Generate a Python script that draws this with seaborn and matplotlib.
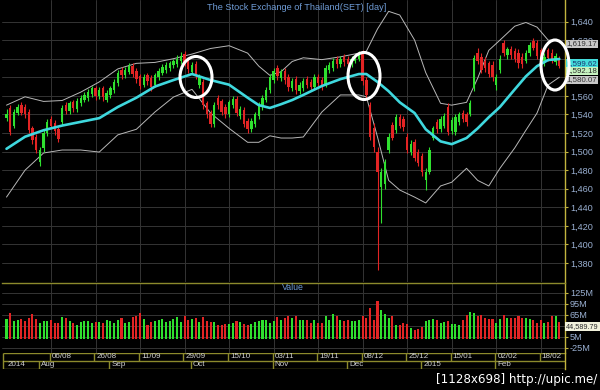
import numpy as np
import pandas as pd
import matplotlib
matplotlib.use("Agg")
import matplotlib.pyplot as plt
from matplotlib.patches import Ellipse
import seaborn as sns

# ---------------- data ----------------
opens = [1536, 1547, 1528, 1542, 1550, 1548, 1543, 1525, 1516, 1489,
         1504, 1520, 1535, 1531, 1524, 1532, 1550, 1544, 1553, 1546,
         1552, 1556, 1558, 1562, 1568, 1560, 1568, 1556, 1561, 1566,
         1574, 1588, 1582, 1586, 1592, 1587, 1581, 1572, 1582, 1579,
         1572, 1580, 1585, 1588, 1590, 1593, 1594, 1597, 1605, 1598,
         1586, 1594, 1572, 1575, 1552, 1542, 1530, 1558, 1554, 1548,
         1540, 1550, 1557, 1538, 1545, 1533, 1524, 1530, 1538, 1548,
         1556, 1566, 1577, 1590, 1579, 1587, 1580, 1568, 1578, 1565,
         1568, 1578, 1575, 1570, 1580, 1577, 1572, 1588, 1590, 1600,
         1594, 1602, 1600, 1594, 1598, 1600, 1606, 1577, 1550, 1525,
         1500, 1462, 1465, 1502, 1529, 1523, 1537, 1535, 1516, 1500,
         1510, 1500, 1495, 1469, 1478, 1515, 1532, 1524, 1528, 1548,
         1522, 1521, 1532, 1542, 1540, 1540, 1568, 1606, 1602, 1598,
         1595, 1593, 1572, 1588, 1617, 1604, 1610, 1608, 1606, 1602,
         1598, 1606, 1619, 1617, 1609, 1595, 1609, 1606, 1596, 1600]
closes = [1541, 1521, 1543, 1548, 1542, 1540, 1523, 1512, 1502, 1502,
          1520, 1532, 1528, 1522, 1514, 1547, 1544, 1552, 1547, 1555,
          1558, 1561, 1564, 1568, 1560, 1566, 1559, 1563, 1568, 1575,
          1585, 1582, 1588, 1592, 1584, 1578, 1571, 1580, 1576, 1569,
          1582, 1587, 1591, 1593, 1595, 1597, 1600, 1603, 1596, 1589,
          1593, 1582, 1580, 1550, 1540, 1530, 1550, 1550, 1543, 1540,
          1553, 1557, 1542, 1546, 1530, 1524, 1533, 1540, 1550, 1558,
          1566, 1580, 1587, 1581, 1586, 1577, 1569, 1576, 1566, 1572,
          1576, 1572, 1569, 1580, 1574, 1570, 1590, 1593, 1598, 1594,
          1600, 1596, 1594, 1600, 1602, 1605, 1576, 1561, 1516, 1505,
          1478, 1478, 1489, 1516, 1515, 1537, 1528, 1526, 1502, 1508,
          1493, 1488, 1478, 1478, 1502, 1525, 1524, 1535, 1538, 1521,
          1534, 1537, 1540, 1535, 1532, 1552, 1601, 1597, 1588, 1590,
          1584, 1580, 1580, 1600, 1606, 1610, 1604, 1600, 1595, 1594,
          1606, 1615, 1612, 1603, 1595, 1602, 1601, 1598, 1603, 1592.18]
highs = [1546, 1550, 1546, 1551, 1553, 1551, 1546, 1528, 1519, 1505,
         1523, 1535, 1538, 1534, 1527, 1550, 1553, 1555, 1556, 1558,
         1561, 1564, 1567, 1571, 1571, 1569, 1571, 1566, 1571, 1578,
         1588, 1591, 1591, 1595, 1595, 1590, 1584, 1583, 1585, 1582,
         1585, 1590, 1594, 1596, 1598, 1600, 1604, 1607, 1608, 1601,
         1596, 1597, 1583, 1578, 1555, 1545, 1553, 1561, 1557, 1551,
         1556, 1560, 1560, 1549, 1548, 1536, 1536, 1543, 1553, 1561,
         1569, 1583, 1590, 1593, 1589, 1590, 1583, 1579, 1581, 1575,
         1579, 1581, 1578, 1583, 1583, 1580, 1593, 1596, 1601, 1603,
         1603, 1605, 1603, 1603, 1605, 1608, 1609, 1580, 1553, 1531,
         1505, 1482, 1492, 1520, 1532, 1540, 1540, 1538, 1520, 1512,
         1514, 1503, 1498, 1482, 1505, 1528, 1535, 1538, 1542, 1552,
         1537, 1540, 1543, 1545, 1543, 1556, 1604, 1612, 1606, 1602,
         1598, 1597, 1584, 1604, 1620, 1613, 1614, 1612, 1610, 1606,
         1609, 1618, 1622, 1620, 1612, 1606, 1612, 1610, 1606, 1603]
lows = [1533, 1518, 1525, 1539, 1539, 1536, 1520, 1508, 1498, 1485,
        1500, 1517, 1525, 1518, 1510, 1529, 1540, 1541, 1543, 1543,
        1549, 1553, 1555, 1559, 1556, 1557, 1555, 1553, 1558, 1563,
        1571, 1578, 1579, 1583, 1580, 1574, 1567, 1569, 1572, 1565,
        1569, 1577, 1582, 1585, 1587, 1590, 1591, 1594, 1592, 1585,
        1583, 1578, 1568, 1546, 1536, 1526, 1527, 1546, 1539, 1536,
        1537, 1547, 1538, 1535, 1526, 1520, 1521, 1527, 1535, 1545,
        1553, 1563, 1574, 1577, 1576, 1573, 1565, 1565, 1562, 1562,
        1565, 1568, 1565, 1567, 1570, 1566, 1569, 1585, 1587, 1590,
        1591, 1592, 1590, 1591, 1595, 1597, 1572, 1557, 1512, 1500,
        1373, 1423, 1460, 1498, 1512, 1520, 1525, 1522, 1498, 1496,
        1490, 1484, 1474, 1459, 1476, 1512, 1520, 1521, 1525, 1518,
        1519, 1518, 1529, 1532, 1528, 1538, 1565, 1594, 1585, 1586,
        1580, 1576, 1566, 1585, 1603, 1600, 1600, 1596, 1590, 1590,
        1595, 1603, 1609, 1600, 1590, 1592, 1598, 1595, 1593, 1590]
volume_m = [52, 70, 49, 50, 52, 49, 55, 67, 52, 43, 48, 49, 50, 43, 41, 58, 55, 49, 41, 37,
            46, 49, 48, 41, 46, 46, 41, 50, 48, 41, 50, 55, 43, 46, 58, 60, 69, 52, 37, 46,
            49, 50, 54, 46, 49, 52, 58, 46, 62, 50, 53, 57, 46, 58, 49, 46, 46, 37, 37, 39,
            39, 41, 48, 44, 39, 37, 40, 46, 48, 50, 50, 41, 49, 58, 50, 57, 62, 57, 60, 50,
            50, 50, 43, 50, 43, 41, 62, 50, 66, 60, 50, 49, 50, 48, 48, 50, 62, 57, 84, 50,
            103, 78, 66, 55, 60, 37, 37, 41, 39, 28, 23, 25, 30, 49, 50, 53, 50, 43, 46, 49,
            39, 40, 37, 50, 64, 71, 69, 60, 64, 55, 53, 52, 43, 52, 64, 55, 55, 55, 62, 57,
            55, 53, 50, 43, 50, 41, 46, 60, 60, 46]

band_bars = [0, 5, 10, 15, 20, 25, 30, 35, 40, 45, 50, 55, 60, 65, 68, 71, 74, 77, 80, 85,
             90, 95, 97, 100, 103, 106, 110, 113, 117, 120, 124, 127, 130, 133, 137, 140,
             143, 146, 149]
band_upper = [1550, 1559, 1554, 1555, 1564, 1575, 1589, 1595, 1596, 1600, 1605, 1611, 1614,
              1606, 1592, 1582, 1586, 1597, 1601, 1599, 1602, 1606, 1608, 1632, 1651, 1647,
              1620, 1585, 1552, 1550, 1553, 1579, 1609, 1620, 1635, 1639, 1634, 1620, 1619.17]
band_mid = [1503, 1516, 1523, 1528, 1532, 1536, 1548, 1558, 1570, 1577, 1583.5, 1577, 1572,
            1558, 1550, 1547, 1551, 1555.5, 1561, 1570.6, 1578, 1583.5, 1583.5, 1575, 1565,
            1553, 1541.5, 1524, 1511, 1508, 1514.6, 1525, 1537, 1548, 1567, 1581, 1592,
            1598.6, 1599.62]
band_lower = [1451, 1480, 1498.5, 1501.7, 1501.7, 1499.5, 1518, 1524, 1542.6, 1558.7, 1567,
              1541.5, 1525, 1510, 1510, 1517, 1514.6, 1514.6, 1515.7, 1542.6, 1561, 1561,
              1559, 1515.7, 1469, 1458.6, 1451, 1444.7, 1463, 1467, 1482, 1469, 1463, 1482,
              1504, 1523, 1541.5, 1571.7, 1580.07]

date_tick_bars = [12, 24, 36, 48, 60, 72, 84, 96, 108, 120, 132, 144]
date_tick_labels = ["06/08", "26/08", "11/09", "29/09", "15/10", "03/11",
                    "19/11", "08/12", "25/12", "15/01", "02/02", "18/02"]
month_bars = [0, 9, 28, 50, 72, 92, 112, 132]
month_labels = ["2014", "Aug", "Sep", "Oct", "Nov", "Dec", "2015", "Feb"]
price_ticks = [1380, 1400, 1420, 1440, 1460, 1480, 1500, 1520, 1540, 1560, 1580, 1600, 1620, 1640]
volume_ticks = [-25, 5, 35, 65, 95, 125]
last_upper, last_mid, last_close, last_lower = 1619.17, 1599.62, 1592.18, 1580.07
last_value = 44589.79

title = "The Stock Exchange of Thailand(SET) [day]"

# ---------------- style ----------------
UP = "#2fe02f"
DOWN = "#e32424"
GRID = "#343434"
TICK = "#9ab0d2"
YELLOW = "#c2b43e"
OLIVE = "#8c8a2c"

sns.set_style("dark", {"axes.facecolor": "black", "figure.facecolor": "black"})
plt.rcParams["font.family"] = ["Liberation Sans", "DejaVu Sans"]

W, H = 600, 390
fig = plt.figure(figsize=(6, 3.9), dpi=100, facecolor="black")


def fx(px):
    return px / W


def fy(py):
    return 1 - py / H


L, R = 2, 565
ax = fig.add_axes([fx(L), fy(282), (R - L) / W, 282 / H])
axv = fig.add_axes([fx(L), fy(353), (R - L) / W, (353 - 283) / H])
axd = fig.add_axes([fx(L), fy(369), (R - L) / W, (369 - 353) / H])

x_lo = (L - 6.5) / 3.71
x_hi = (R - 6.5) / 3.71

n = len(closes)
df = pd.DataFrame({"bar": np.arange(n), "open": opens, "high": highs, "low": lows,
                   "close": closes, "vol": volume_m})
df["dir"] = np.where(df["close"] >= df["open"], "up", "down")
cols = df["dir"].map({"up": UP, "down": DOWN}).tolist()

# ---- main price panel ----
ax.set_facecolor("black")
bands = pd.DataFrame({"bar": band_bars, "upper": band_upper, "mid": band_mid, "lower": band_lower})
sns.lineplot(data=bands, x="bar", y="upper", ax=ax, color="#b8b8b8", lw=0.7, zorder=2)
sns.lineplot(data=bands, x="bar", y="lower", ax=ax, color="#b8b8b8", lw=0.7, zorder=2)

ax.vlines(df["bar"], df["low"], df["high"], colors=cols, lw=0.8, zorder=3)
body = (df["close"] - df["open"]).abs().clip(lower=0.8)
ax.bar(df["bar"], body, bottom=df[["open", "close"]].min(axis=1), width=0.64,
       color=cols, linewidth=0, edgecolor="none", zorder=4)

sns.lineplot(data=bands, x="bar", y="mid", ax=ax, color="#3fd8de", lw=1.9, zorder=5)

ax.set_xlim(x_lo, x_hi)
ax.set_ylim(1359.6, 1663.2)
ax.set_yticks(price_ticks)
# labels hidden behind the last-value boxes in the reference are left blank
hidden = {1580, 1600}
ax.set_yticklabels(["" if v in hidden else f"{v:,}" for v in price_ticks])
ax.set_xticks(date_tick_bars)
ax.set_xticklabels([])
ax.yaxis.tick_right()
ax.tick_params(axis="y", labelsize=6.6, length=2, pad=1.5, labelcolor=TICK, color=YELLOW)
ax.tick_params(axis="x", length=0)
ax.grid(True, color=GRID, lw=0.7)
ax.set_xlabel("")
ax.set_ylabel("")
for s in ["top", "left", "bottom"]:
    ax.spines[s].set_visible(False)
ax.spines["right"].set_color(YELLOW)
ax.spines["right"].set_linewidth(1.0)

label_specs = [
    (last_upper, -2.2, "#c8c8c8", "#333333"),
    (last_mid, -2.9, "#44dcdc", "#1b3670"),
    (last_close, -3.6, "#c6f2c0", "#2a2a2a"),
    (last_lower, -2.0, "#c8c8c8", "#333333"),
]
for val, dy, fc, tc in label_specs:
    ax.annotate(f"{val:,.2f}", xy=(1, val), xycoords=("axes fraction", "data"),
                xytext=(1.2, dy), textcoords="offset points", ha="left", va="center",
                fontsize=5.7, color=tc, annotation_clip=False, zorder=10,
                bbox=dict(boxstyle="square,pad=0.12", fc=fc, ec="none"))

# ---- volume panel ----
axv.set_facecolor("black")
sns.barplot(data=df, x="bar", y="vol", hue="dir", palette={"up": UP, "down": DOWN},
            native_scale=True, dodge=False, legend=False, errorbar=None, width=0.55,
            saturation=1, ax=axv, zorder=3, linewidth=0, edgecolor="none")
axv.set_xlim(x_lo, x_hi)
axv.set_ylim(-39.5, 151.2)
axv.set_yticks(volume_ticks)
axv.set_yticklabels(["" if v == 35 else f"{v}M" for v in volume_ticks])
axv.set_xticks(date_tick_bars)
axv.set_xticklabels([])
axv.yaxis.tick_right()
axv.tick_params(axis="y", labelsize=6.6, length=2, pad=1.5, labelcolor=TICK, color=YELLOW)
axv.tick_params(axis="x", length=0)
axv.grid(True, color=GRID, lw=0.7)
axv.set_xlabel("")
axv.set_ylabel("")
for s in ["left", "bottom"]:
    axv.spines[s].set_visible(False)
axv.spines["top"].set_color(OLIVE)
axv.spines["top"].set_linewidth(1.0)
axv.spines["right"].set_color(YELLOW)
axv.spines["right"].set_linewidth(1.0)
axv.annotate(f"{last_value:,.2f}", xy=(1, last_value / 1000), xycoords=("axes fraction", "data"),
             xytext=(0.8, -3.0), textcoords="offset points", ha="left", va="center",
             fontsize=5.2, color="#2a2a2a", annotation_clip=False, zorder=10,
             bbox=dict(boxstyle="square,pad=0.12", fc="#f2f2dc", ec="none"))

# ---- date strip ----
axd.set_facecolor("black")
axd.set_xlim(x_lo, x_hi)
axd.set_ylim(0, 2)
axd.set_xticks([])
axd.set_yticks([])
for s in ["top", "left", "bottom"]:
    axd.spines[s].set_visible(False)
axd.spines["right"].set_color(YELLOW)
axd.spines["right"].set_linewidth(1.0)
x_box0 = (3 - 6.5) / 3.71
for yy in (0.02, 1, 1.98):
    axd.hlines(yy, x_box0, x_hi, color=OLIVE, lw=1.0)
axd.vlines(x_box0, 0, 2, color=OLIVE, lw=1.0)
for b, lab in zip(date_tick_bars, date_tick_labels):
    axd.vlines(b - 0.3, 1, 2, color=OLIVE, lw=1.0)
    axd.text(b + 0.3, 1.5, lab, color="#cfcfcf", fontsize=5.8, ha="left", va="center")
for b, lab in zip(month_bars, month_labels):
    if b > 0:
        axd.vlines(b - 0.3, 0, 1, color=OLIVE, lw=1.0)
    axd.text(max(b, 0) + 0.3, 0.5, lab, color="#cfcfcf", fontsize=5.8, ha="left", va="center")

# ---- texts and highlight circles ----
fig.text(fx(297), fy(7), title, color="#6f9cd6", fontsize=6.6, ha="center", va="center")
fig.text(fx(293), fy(288), "Value", color="#6f9cd6", fontsize=6.3, ha="center", va="center")
fig.text(fx(597), fy(379), "[1128x698] http://upic.me/", color="white", fontsize=8.6,
         ha="right", va="center", family="DejaVu Sans")

for cx, cy, w, h in [(196, 77, 32, 41), (364, 76, 32, 47), (555, 65, 28, 50)]:
    fig.add_artist(Ellipse((fx(cx), fy(cy)), w / W, h / H, transform=fig.transFigure,
                           fill=False, ec="white", lw=2.2, zorder=8))

fig.savefig("out.png", dpi=100, facecolor="black")
